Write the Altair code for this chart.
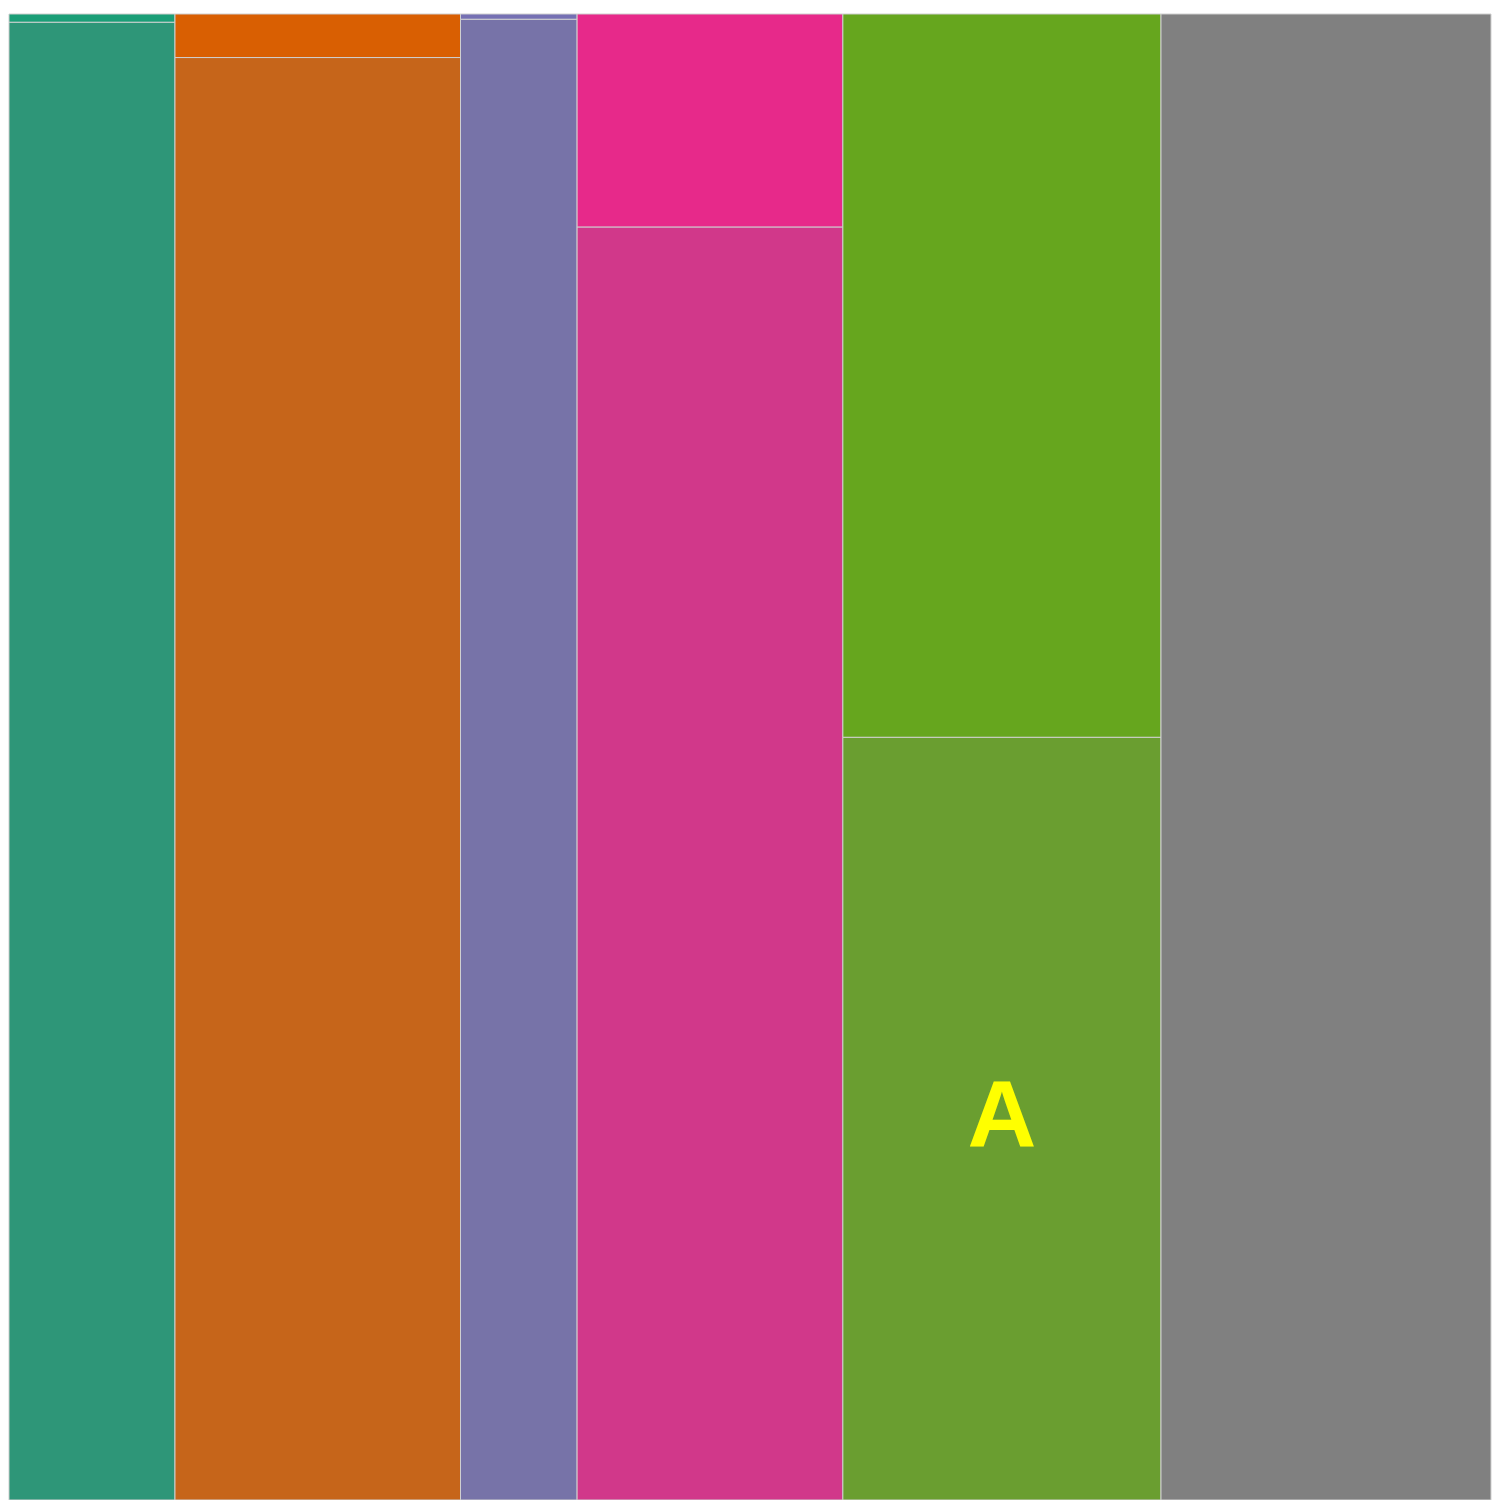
import altair as alt
import pandas as pd

# Column (group) sizes and the share of each column taken by its top segment
groups = ["G1", "G2", "G3", "G4", "G5", "G6"]
group_sizes = [168, 289, 118, 269, 322, 334]
top_share = [0.0055, 0.0293, 0.0035, 0.1433, 0.4867, 0.0]
top_colors = ["#1b9e77", "#d95f02", "#7570b3", "#e7298a", "#66a61e", "#808080"]
bottom_colors = ["#2e9678", "#c6651a", "#7773a8", "#d1388a", "#6a9e30", "#808080"]
bottom_labels = ["", "", "", "", "A", ""]

total = sum(group_sizes)
rows = []
x0 = 0
for g, w, s, tc, bc, lab in zip(groups, group_sizes, top_share, top_colors, bottom_colors, bottom_labels):
    x1 = x0 + w
    rows.append(dict(group=g, seg="bottom", x0=x0, x1=x1, y0=0.0, y1=1.0 - s, color=bc, label=lab))
    if s > 0:
        rows.append(dict(group=g, seg="top", x0=x0, x1=x1, y0=1.0 - s, y1=1.0, color=tc, label=""))
    x0 = x1
df = pd.DataFrame(rows)
df["xm"] = (df["x0"] + df["x1"]) / 2
df["ym"] = (df["y0"] + df["y1"]) / 2

W = 1492
H = 1496
xs = alt.Scale(domain=[0, total], nice=False, zero=False)
ys = alt.Scale(domain=[0, 1], nice=False, zero=False)

rects = alt.Chart(df).mark_rect(stroke="#d0d0d0", strokeWidth=1).encode(
    x=alt.X("x0:Q", scale=xs, axis=None),
    x2="x1:Q",
    y=alt.Y("y0:Q", scale=ys, axis=None),
    y2="y1:Q",
    color=alt.Color("color:N", scale=None, legend=None),
)

labels = alt.Chart(df[df["label"] != ""]).mark_text(
    font="Liberation Sans", fontWeight="bold", fontSize=96, color="#ffff00",
    align="center", baseline="middle",
).encode(
    x=alt.X("xm:Q", scale=xs, axis=None),
    y=alt.Y("ym:Q", scale=ys, axis=None),
    text="label:N",
)

chart = (rects + labels).properties(width=W, height=H, padding=0).configure_view(stroke=None)

chart.save("out.html", embed_options={"renderer": "svg", "actions": False})
